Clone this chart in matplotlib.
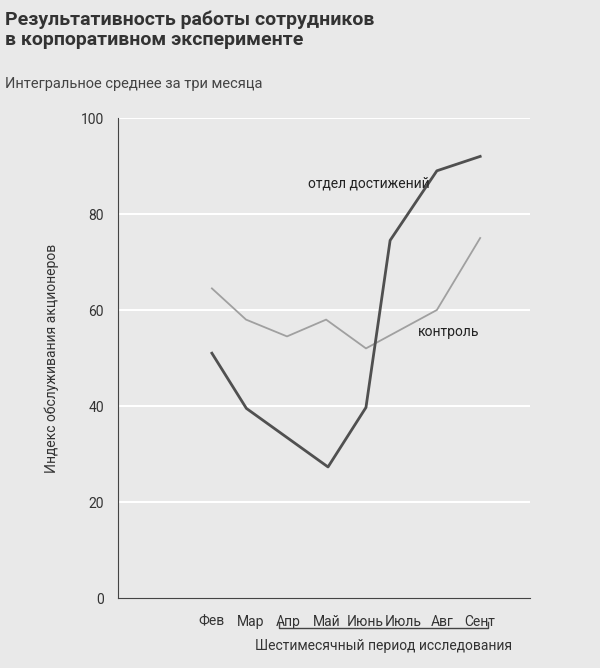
import matplotlib
matplotlib.use("Agg")
import matplotlib.pyplot as plt
from matplotlib import font_manager

names = {f.name for f in font_manager.fontManager.ttflist}
fam = "Liberation Sans Narrow" if "Liberation Sans Narrow" in names else "Roboto"
plt.rcParams["font.family"] = fam

months = ["Фев", "Мар", "Апр", "Май", "Июнь", "Июль", "Авг", "Сент"]
dept_x = [0, 0.9, 3.03, 4.02, 4.65, 5.87, 7.0]
dept_y = [51, 39.5, 27.3, 39.7, 74.5, 89, 92]
ctrl_x = [0, 0.89, 1.96, 2.98, 4.02, 5.87, 7.0]
ctrl_y = [64.5, 58, 54.5, 58, 52, 60, 75]
yticks = [0, 20, 40, 60, 80, 100]

bg = "#e9e9e9"
fig = plt.figure(figsize=(6, 6.68), dpi=100, facecolor=bg)
ax = fig.add_axes([118/600, 1-598/668, 412/600, 480/668], facecolor=bg)
ax.set_xlim(-2.45, 8.3)
ax.set_ylim(0, 100)
for y in yticks[1:]:
    ax.axhline(y, color="white", lw=1.5, zorder=0)
ax.plot(ctrl_x, ctrl_y, color="#a0a0a0", lw=1.3)
ax.plot(dept_x, dept_y, color="#505050", lw=2)
for s in ["top", "right"]:
    ax.spines[s].set_visible(False)
ax.spines["left"].set_color("#444")
ax.spines["bottom"].set_color("#444")
ax.set_yticks(yticks)
ax.set_xticks(range(len(months)))
ax.set_xticklabels(months)
ax.tick_params(length=0, labelsize=10, colors="#333", pad=10)
ax.tick_params(axis="x", pad=12)
ax.set_ylabel("Индекс обслуживания акционеров", fontsize=10, color="#333", labelpad=16)
ax.text(2.51, 85.5, "отдел достижений", fontsize=10, color="#222", ha="left")
ax.text(5.37, 54.5, "контроль", fontsize=10, color="#222", ha="left")

by = -6.2
ax.plot([1.75, 1.75, 7.2, 7.2], [by + 1.2, by, by, by + 1.2], color="#444", lw=1, clip_on=False)
ax.text(4.47, -10.8, "Шестимесячный период исследования", fontsize=10, color="#333", ha="center")

fig.text(0.008, 0.985, "Результативность работы сотрудников\nв корпоративном эксперименте",
         fontsize=14, fontweight="bold", color="#333", va="top", linespacing=1.15)
fig.text(0.008, 0.885, "Интегральное среднее за три месяца", fontsize=10.5, color="#444", va="top")
fig.savefig("out.png", dpi=100, facecolor=bg)
